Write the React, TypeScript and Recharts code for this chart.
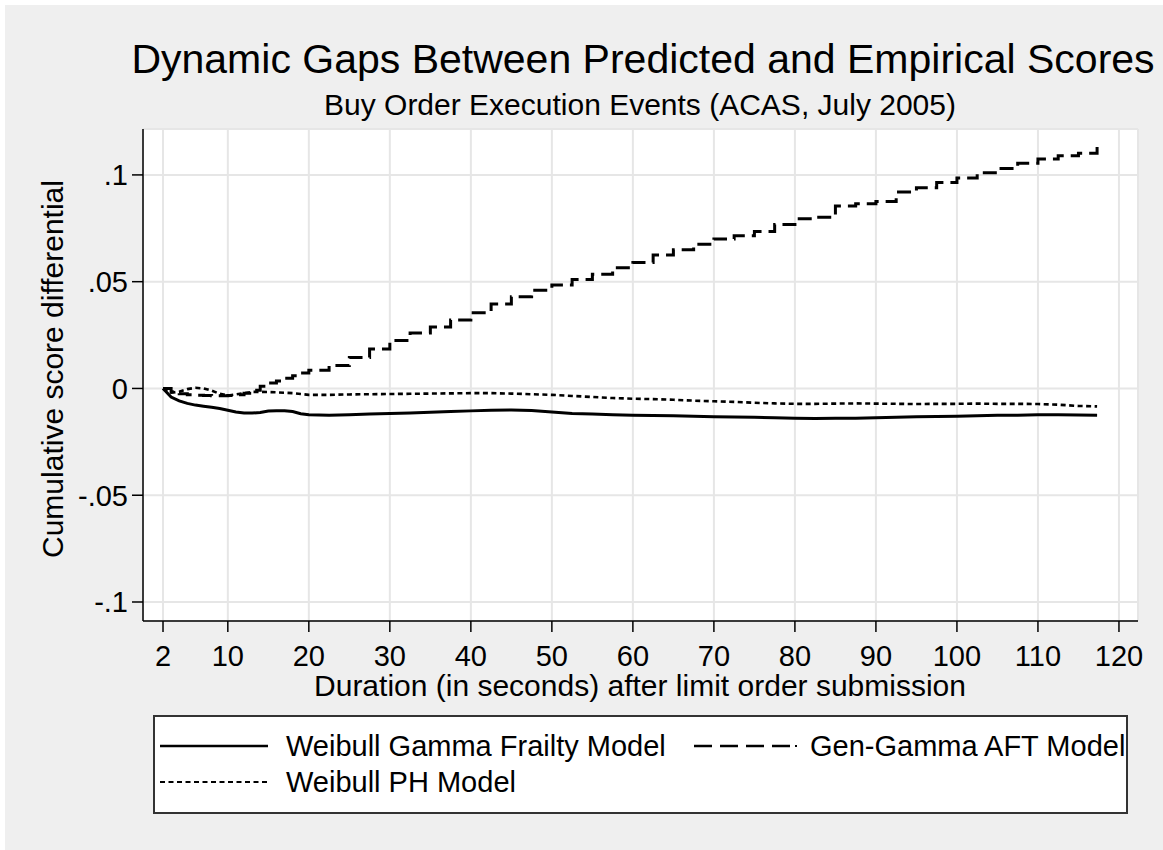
import React from "react";
import { LineChart, Line, XAxis, YAxis, CartesianGrid } from "recharts";

// seconds after submission
const TIMES = [
  2, 3, 4, 5, 6, 7, 8, 9, 10, 11, 12, 13, 14, 15, 16, 17, 18, 19, 20,
  22.5, 25, 27.5, 30, 32.5, 35, 37.5, 40, 42.5, 45, 47.5, 50, 52.5, 55, 57.5,
  60, 62.5, 65, 67.5, 70, 72.5, 75, 77.5, 80, 82.5, 85, 87.5, 90, 92.5, 95,
  97.5, 100, 102.5, 105, 107.5, 110, 112.5, 115, 117.3,
];

const FRAILTY = [
  0, -0.004, -0.0058, -0.007, -0.0078, -0.0083, -0.0088, -0.0094, -0.0102, -0.011,
  -0.0115, -0.0115, -0.0113, -0.0106, -0.0104, -0.0104, -0.0108, -0.0118, -0.0123,
  -0.0125, -0.0123, -0.012, -0.0117, -0.0115, -0.0111, -0.0108, -0.0105, -0.0102,
  -0.0101, -0.0103, -0.011, -0.0117, -0.012, -0.0123, -0.0126, -0.0127, -0.0128,
  -0.013, -0.0132, -0.0134, -0.0135, -0.0137, -0.014, -0.0141, -0.014, -0.0139,
  -0.0137, -0.0135, -0.0133, -0.0131, -0.013, -0.0128, -0.0126, -0.0125, -0.0123,
  -0.0123, -0.0124, -0.0125,
];

const GEN_GAMMA = [
  0, -0.0015, -0.0025, -0.003, -0.0032, -0.0033, -0.0034, -0.0034, -0.0033, -0.003,
  -0.0022, -0.0008, 0.001, 0.0025, 0.0035, 0.0048, 0.006, 0.0072, 0.0085,
  0.0108, 0.0145, 0.0185, 0.0225, 0.026, 0.0288, 0.032, 0.0355, 0.0395, 0.043,
  0.046, 0.0485, 0.051, 0.0535, 0.0565, 0.059, 0.0625, 0.065, 0.0675, 0.07,
  0.0715, 0.0735, 0.0768, 0.0795, 0.0802, 0.0855, 0.0865, 0.0875, 0.092, 0.094,
  0.0965, 0.0985, 0.101, 0.103, 0.1055, 0.1075, 0.109, 0.1102, 0.1135,
];

const WEIBULL_PH = [
  0, -0.002, -0.0015, -0.0003, 0.0003, 0, -0.001, -0.0025, -0.0033, -0.0028,
  -0.0022, -0.0016, -0.0016, -0.0017, -0.0018, -0.002, -0.0022, -0.0026, -0.003,
  -0.003, -0.0028, -0.0027, -0.0026, -0.0025, -0.0024, -0.0023, -0.0022, -0.0022,
  -0.0024, -0.0027, -0.003, -0.0035, -0.004, -0.0045, -0.0048, -0.005, -0.0053,
  -0.0057, -0.006, -0.0063, -0.0067, -0.007, -0.0072, -0.0072, -0.0071, -0.007,
  -0.0071, -0.0072, -0.0073, -0.0072, -0.0072, -0.0071, -0.0072, -0.0072, -0.0073,
  -0.0076, -0.0082, -0.0084,
];

const X_TICKS = [2, 10, 20, 30, 40, 50, 60, 70, 80, 90, 100, 110, 120];
const Y_TICKS = [-0.1, -0.05, 0, 0.05, 0.1];
const Y_TICK_LABELS = ["-.1", "-.05", "0", ".05", ".1"];

const SERIES_NAMES = ["Weibull Gamma Frailty Model", "Gen-Gamma AFT Model", "Weibull PH Model"];

const FONT = '"Liberation Sans", Arial, Helvetica, sans-serif';
const W = 1163;
const H = 850;

const data = TIMES.map((t, i) => ({
  t,
  frailty: FRAILTY[i],
  gengamma: GEN_GAMMA[i],
  ph: WEIBULL_PH[i],
}));

function yLabel(v: number) {
  const i = Y_TICKS.findIndex((y) => Math.abs(y - v) < 1e-9);
  return i >= 0 ? Y_TICK_LABELS[i] : String(v);
}

const tickStyle = { fill: "#000", fontSize: 29, fontFamily: FONT };

export default function App() {
  return (
    <div style={{ position: "absolute", left: 0, top: 0, width: W, height: H, background: "#fff" }}>
      <div style={{ position: "absolute", left: 5, top: 5, width: W - 5, height: H - 5, background: "#efefef" }} />
      <div style={{ position: "absolute", left: 0, top: 0 }}>
        <LineChart width={W} height={H} data={data} margin={{ top: 129, right: 25, bottom: 0, left: 0 }}>
          <CartesianGrid fill="#ffffff" stroke="#e6e6e6" strokeWidth={2} />
          <XAxis
            type="number"
            dataKey="t"
            domain={[-0.47, 122.35]}
            ticks={X_TICKS}
            allowDataOverflow
            height={229}
            tick={tickStyle}
            tickSize={11}
            tickMargin={13}
            tickLine={{ stroke: "#000", strokeWidth: 1.5 }}
            axisLine={{ stroke: "#000", strokeWidth: 1.5 }}
            interval={0}
          />
          <YAxis
            type="number"
            domain={[-0.1089, 0.1215]}
            ticks={Y_TICKS}
            allowDataOverflow
            width={143}
            tick={tickStyle}
            tickSize={11}
            tickMargin={4}
            tickFormatter={yLabel}
            tickLine={{ stroke: "#000", strokeWidth: 1.5 }}
            axisLine={{ stroke: "#000", strokeWidth: 1.5 }}
            interval={0}
          />
          <Line dataKey="frailty" name={SERIES_NAMES[0]} type="linear" stroke="#000" strokeWidth={3} dot={false} isAnimationActive={false} />
          <Line dataKey="gengamma" name={SERIES_NAMES[1]} type="stepAfter" stroke="#000" strokeWidth={3} strokeDasharray="14 7" dot={false} isAnimationActive={false} />
          <Line dataKey="ph" name={SERIES_NAMES[2]} type="linear" stroke="#000" strokeWidth={2.6} strokeDasharray="5 3.5" dot={false} isAnimationActive={false} />
        </LineChart>
      </div>
      <svg width={W} height={H} style={{ position: "absolute", left: 0, top: 0, pointerEvents: "none" }} fontFamily={FONT}>
        <text x={643} y={73} textAnchor="middle" fontSize={41} fill="#000">
          Dynamic Gaps Between Predicted and Empirical Scores
        </text>
        <text x={640} y={115} textAnchor="middle" fontSize={30} fill="#000">
          Buy Order Execution Events (ACAS, July 2005)
        </text>
        <text x={640} y={696} textAnchor="middle" fontSize={30} fill="#000">
          Duration (in seconds) after limit order submission
        </text>
        <text x={63} y={369} textAnchor="middle" fontSize={30} fill="#000" transform="rotate(-90 63 369)">
          Cumulative score differential
        </text>
        <rect x={154} y={716} width={973} height={97} fill="#fff" stroke="#333" strokeWidth={2} />
        <line x1={160} x2={268} y1={746} y2={746} stroke="#000" strokeWidth={2.5} />
        <text x={286} y={756} fontSize={29} fill="#000">{SERIES_NAMES[0]}</text>
        <line x1={694} x2={792} y1={746} y2={746} stroke="#000" strokeWidth={2.5} strokeDasharray="18 8" />
        <line x1={795} x2={797} y1={746} y2={746} stroke="#000" strokeWidth={2} />
        <text x={810} y={756} fontSize={29} fill="#000">{SERIES_NAMES[1]}</text>
        <line x1={160} x2={268} y1={782} y2={782} stroke="#000" strokeWidth={2} strokeDasharray="5 3.5" />
        <text x={286} y={792} fontSize={29} fill="#000">{SERIES_NAMES[2]}</text>
      </svg>
    </div>
  );
}
